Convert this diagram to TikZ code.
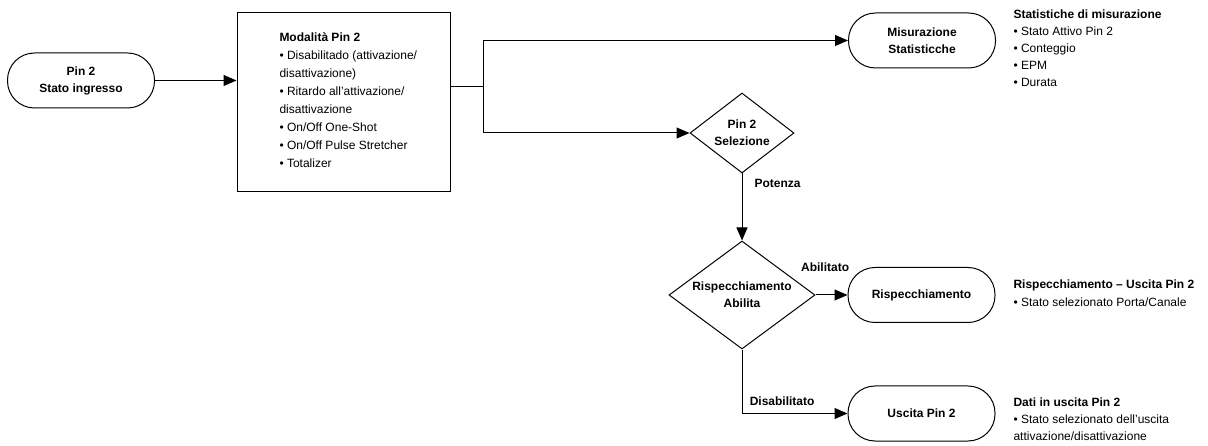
\documentclass[tikz,border=0pt]{standalone}
\usepackage{fontspec}
\setmainfont{Liberation Sans}
\usepackage{tikz}
\usetikzlibrary{
  arrows.meta,
  positioning,
  shapes.geometric,
}

\begin{document}
\begin{tikzpicture}[
  x=1pt, y=-1pt,
  line width=1pt,
  font=\fontsize{12}{17}\selectfont,
  term/.style={draw, rounded corners=27pt, minimum width=147pt, minimum height=55pt, inner sep=0pt, align=center, font=\fontsize{12}{17}\selectfont\bfseries},
  decision/.style={draw, diamond, inner sep=0pt, align=center, font=\fontsize{12}{17}\selectfont\bfseries},
  modebox/.style={draw, minimum width=213pt, minimum height=179pt},
  notes/.style={anchor=north west, inner sep=0pt, align=left},
  lbl/.style={inner sep=0pt, font=\fontsize{12}{17}\selectfont\bfseries},
  flow/.style={-{Triangle[length=13pt,width=11pt]}},
]
  \useasboundingbox (0,0) rectangle (1208,446);

  % Input and mode box
  \node[term] (pin) at (81,80.5) {Pin 2\\Stato ingresso};
  \node[modebox] (mode) at (343.5,102.5) {};
  \node[notes, font=\fontsize{12}{18}\selectfont] (modetxt) at (279,32) {\textbf{Modalità Pin 2}\\• Disabilitado (attivazione/\\disattivazione)\\• Ritardo all’attivazione/\\disattivazione\\• On/Off One-Shot\\• On/Off Pulse Stretcher\\• Totalizer};

  % Terminators and decisions
  \node[term] (stats) at (922,40.5) {Misurazione\\Statisticche};
  \node[decision, minimum width=104pt, minimum height=80pt, shape aspect=1.3] (sel) at (742,133) {Pin 2\\Selezione};
  \node[decision, minimum width=146pt, minimum height=108pt, shape aspect=1.35] (risp) at (742,295) {Rispecchiamento\\Abilita};
  \node[term] (mirror) at (921.5,295) {Rispecchiamento};
  \node[term] (out) at (921.5,413.5) {Uscita Pin 2};

  % Side notes
  \node[notes] (statsnote) at (1013,9.5) {\textbf{Statistiche di misurazione}\\• Stato Attivo Pin 2\\• Conteggio\\• EPM\\• Durata};
  \node[notes, font=\fontsize{12}{18}\selectfont] (mirrnote) at (1013,279.5) {\textbf{Rispecchiamento – Uscita Pin 2}\\• Stato selezionato Porta/Canale};
  \node[notes] (outnote) at (1013,397.5) {\textbf{Dati in uscita Pin 2}\\• Stato selezionato dell’uscita\\attivazione/disattivazione};

  % Connectors
  \coordinate (fork) at (483,87);
  \draw[flow] (pin) -- (pin -| mode.west);
  \draw (mode.east |- fork) -- (fork);
  \draw[flow] (fork) |- (stats);
  \draw[flow] (fork) |- (sel);
  \draw[flow] (sel) -- node[lbl, anchor=west, pos=0.15, xshift=12pt] {Potenza} (risp);
  \draw[flow] (risp) -- node[lbl, pos=0.3, above=23pt] {Abilitato} (mirror);
  \draw[flow] (risp) |- node[lbl, pos=0.69, above=7pt] {Disabilitato} (out);
\end{tikzpicture}
\end{document}
